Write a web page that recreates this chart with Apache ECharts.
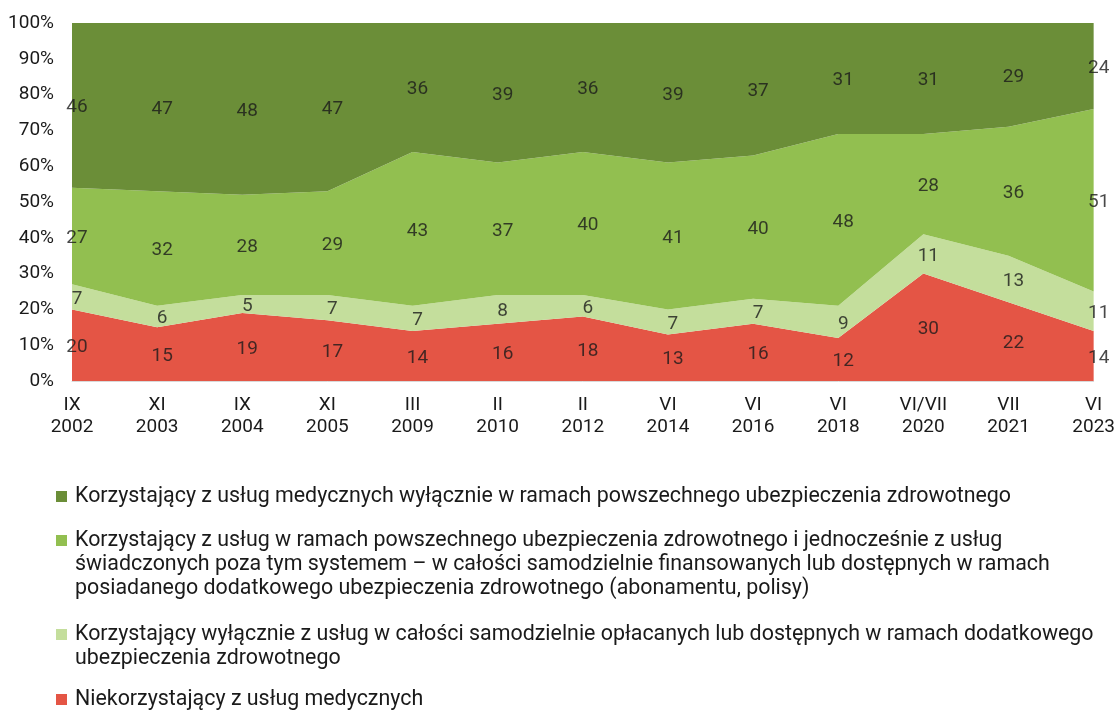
<!DOCTYPE html>
<html>
<head>
<meta charset="utf-8">
<script src="https://cdn.jsdelivr.net/npm/echarts@6/dist/echarts.min.js"></script>
<style>
  html, body { margin: 0; padding: 0; background: #fff; }
  #chart { width: 1118px; height: 711px; }
</style>
</head>
<body>
<div id="chart"></div>
<script>
// okresy badań
var categories = ['IX\n2002', 'XI\n2003', 'IX\n2004', 'XI\n2005', 'III\n2009', 'II\n2010', 'II\n2012',
    'VI\n2014', 'VI\n2016', 'VI\n2018', 'VI/VII\n2020', 'VII\n2021', 'VI\n2023'];
var yTicks = [0, 10, 20, 30, 40, 50, 60, 70, 80, 90, 100];

// wartości (%) od dołu stosu
var niekorzystajacy = [20, 15, 19, 17, 14, 16, 18, 13, 16, 12, 30, 22, 14];
var tylkoPrywatnie = [7, 6, 5, 7, 7, 8, 6, 7, 7, 9, 11, 13, 11];
var obaSystemy = [27, 32, 28, 29, 43, 37, 40, 41, 40, 48, 28, 36, 51];
var tylkoNfz = [46, 47, 48, 47, 36, 39, 36, 39, 37, 31, 31, 29, 24];

var names = [
    'Niekorzystający z usług medycznych',
    'Korzystający wyłącznie z usług w całości samodzielnie opłacanych lub dostępnych w ramach dodatkowego\nubezpieczenia zdrowotnego',
    'Korzystający z usług w ramach powszechnego ubezpieczenia zdrowotnego i jednocześnie z usług\nświadczonych poza tym systemem – w całości samodzielnie finansowanych lub dostępnych w ramach\nposiadanego dodatkowego ubezpieczenia zdrowotnego (abonamentu, polisy)',
    'Korzystający z usług medycznych wyłącznie w ramach powszechnego ubezpieczenia zdrowotnego'
];
var colors = ['#E45545', '#C4DE9C', '#92BF50', '#6B8E38'];
var values = [niekorzystajacy, tylkoPrywatnie, obaSystemy, tylkoNfz];

var chart = echarts.init(document.getElementById('chart'));
var font = 'Roboto, "Noto Sans", sans-serif';

var series = [], cum = categories.map(function () { return 0; }), i, j;
for (i = 0; i < values.length; i++) {
    series.push({
        name: names[i],
        type: 'line',
        stack: 'total',
        symbol: 'none',
        lineStyle: { width: 0 },
        areaStyle: { color: colors[i], opacity: 1 },
        itemStyle: { color: colors[i] },
        data: values[i],
        z: 2
    });
}
// etykiety w środku każdego pasma
for (i = 0; i < values.length; i++) {
    var pts = [];
    for (j = 0; j < categories.length; j++) {
        pts.push([j, cum[j] + values[i][j] / 2, values[i][j]]);
        cum[j] += values[i][j];
    }
    series.push({
        type: 'scatter',
        symbolSize: 0,
        silent: true,
        data: pts,
        z: 5,
        label: {
            show: true,
            position: 'inside',
            offset: [5, 2],
            formatter: function (p) { return p.value[2]; },
            color: '#1a1a1a',
            fontSize: 19,
            fontFamily: font
        }
    });
}

// legenda (kolejność odwrócona względem stosu)
var legendTop = [497, 541, 635, 700];
var graphic = [];
for (i = 0; i < 4; i++) {
    var k = 3 - i;
    graphic.push({
        type: 'rect',
        left: 56,
        top: legendTop[i] - 6,
        shape: { width: 11, height: 11 },
        style: { fill: colors[k] }
    });
    graphic.push({
        type: 'text',
        left: 75,
        top: legendTop[i] - 12,
        style: {
            text: names[k],
            font: '21.4px ' + font,
            lineHeight: 24,
            fill: '#1a1a1a'
        }
    });
}

chart.setOption({
    animation: false,
    textStyle: { fontFamily: font },
    grid: { left: 72, right: 21, top: 23, bottom: 330 },
    xAxis: {
        type: 'category',
        data: categories,
        boundaryGap: false,
        axisLine: { lineStyle: { color: '#d9d9d9', width: 1 } },
        axisTick: { show: false },
        axisLabel: {
            color: '#1a1a1a',
            fontSize: 19,
            lineHeight: 22,
            margin: 13,
            interval: 0,
            fontFamily: font
        }
    },
    yAxis: {
        type: 'value',
        min: yTicks[0],
        max: yTicks[yTicks.length - 1],
        interval: 10,
        splitLine: { show: false },
        axisLine: { show: false },
        axisTick: { show: false },
        axisLabel: {
            formatter: '{value}%',
            color: '#1a1a1a',
            fontSize: 19,
            margin: 18,
            fontFamily: font
        }
    },
    graphic: graphic,
    series: series
});
</script>
</body>
</html>
